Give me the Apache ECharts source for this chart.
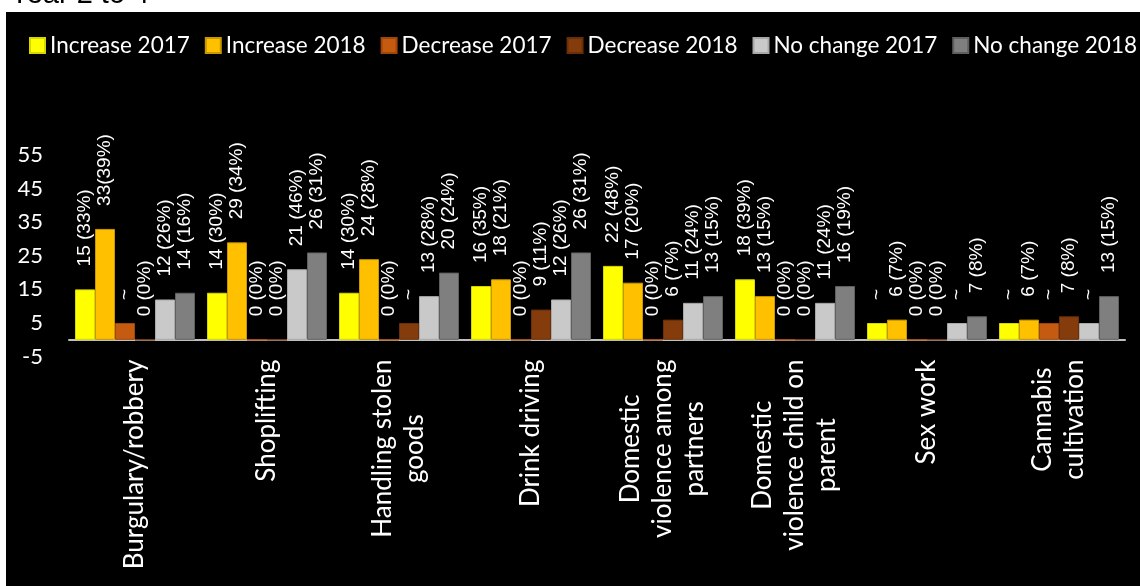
<!DOCTYPE html>
<html>
<head>
<meta charset="utf-8">
<script src="https://cdn.jsdelivr.net/npm/echarts@6/dist/echarts.min.js"></script>
<style>
html, body { margin: 0; padding: 0; background: #fff; }
#chart { width: 1140px; height: 586px; }
</style>
</head>
<body>
<div id="chart"></div>
<script>
var categories = [
    'Burgulary/robbery',
    'Shoplifting',
    'Handling stolen\ngoods',
    'Drink driving',
    'Domestic\nviolence among\npartners',
    'Domestic\nviolence child on\nparent',
    'Sex work',
    'Cannabis\ncultivation'
];

// "~" (suppressed) counts are drawn as 5
var increase2017 = [15, 14, 14, 16, 22, 18, 5, 5];
var increase2018 = [33, 29, 24, 18, 17, 13, 6, 6];
var decrease2017 = [5, 0, 0, 0, 0, 0, 0, 5];
var decrease2018 = [0, 0, 5, 9, 6, 0, 0, 7];
var noChange2017 = [12, 21, 13, 12, 11, 11, 5, 5];
var noChange2018 = [14, 26, 20, 26, 13, 16, 7, 13];

var increase2017Labels = ['15 (33%)', '14 (30%)', '14 (30%)', '16 (35%)', '22 (48%)', '18 (39%)', '~', '~'];
var increase2018Labels = ['33(39%)', '29 (34%)', '24 (28%)', '18 (21%)', '17 (20%)', '13 (15%)', '6 (7%)', '6 (7%)'];
var decrease2017Labels = ['~', '0 (0%)', '0 (0%)', '0 (0%)', '0 (0%)', '0 (0%)', '0 (0%)', '~'];
var decrease2018Labels = ['0 (0%)', '0 (0%)', '~', '9 (11%)', '6 (7%)', '0 (0%)', '0 (0%)', '7 (8%)'];
var noChange2017Labels = ['12 (26%)', '21 (46%)', '13 (28%)', '12 (26%)', '11 (24%)', '11 (24%)', '~', '~'];
var noChange2018Labels = ['14 (16%)', '26 (31%)', '20 (24%)', '26 (31%)', '13 (15%)', '16 (19%)', '7 (8%)', '13 (15%)'];

var yTicks = { min: -5, max: 55, interval: 10 };

var uiFont = 'Lato, "Noto Sans", sans-serif';
var labelFont = '"Liberation Sans", Arial, sans-serif';

function makeSeries(name, values, labels, color, border) {
    return {
        type: 'bar',
        name: name,
        data: values,
        barWidth: 20,
        barGap: '0%',
        itemStyle: {
            color: color,
            borderColor: border,
            borderWidth: 1
        },
        label: {
            show: true,
            position: 'top',
            rotate: 90,
            align: 'left',
            verticalAlign: 'middle',
            distance: 23,
            color: '#fff',
            fontFamily: labelFont,
            fontSize: 19,
            formatter: function (p) {
                return labels[p.dataIndex];
            }
        }
    };
}

var chart = echarts.init(document.getElementById('chart'), null, { renderer: 'canvas' });

chart.setOption({
    animation: false,
    backgroundColor: '#fff',
    graphic: [
        {
            type: 'rect',
            z: -10,
            shape: { x: 6, y: 12, width: 1134, height: 574 },
            style: { fill: '#000' }
        },
        {
            type: 'text',
            x: 10,
            y: 9,
            style: {
                text: 'Year 2 to 4',
                fill: '#000',
                font: '29px "Liberation Sans", Arial, sans-serif',
                verticalAlign: 'bottom'
            }
        }
    ],
    legend: {
        left: 29,
        top: 34,
        width: 1111,
        padding: 0,
        itemWidth: 15,
        itemHeight: 15,
        itemGap: 15,
        icon: 'rect',
        textStyle: {
            color: '#fff',
            fontFamily: uiFont,
            fontSize: 22.5
        }
    },
    grid: {
        left: 69,
        right: 15,
        top: 155,
        bottom: 229.4,
        containLabel: false
    },
    xAxis: {
        type: 'category',
        data: categories,
        axisLine: {
            onZero: true,
            lineStyle: { color: '#bfbfbf', width: 2 }
        },
        axisTick: { show: false },
        axisLabel: {
            interval: 0,
            rotate: 90,
            margin: 3,
            color: '#fff',
            fontFamily: uiFont,
            fontSize: 26,
            lineHeight: 32,
            formatter: function (value) {
                return value.split('\n').map(function (line) {
                    return '{c|' + line + '}';
                }).join('\n');
            },
            rich: {
                c: {
                    align: 'center',
                    color: '#fff',
                    fontFamily: uiFont,
                    fontSize: 26,
                    lineHeight: 32
                }
            }
        }
    },
    yAxis: {
        type: 'value',
        min: yTicks.min,
        max: yTicks.max,
        interval: yTicks.interval,
        axisLine: { show: false },
        axisTick: { show: false },
        splitLine: { show: false },
        axisLabel: {
            margin: 26,
            padding: [4, 0, 0, 0],
            color: '#fff',
            fontFamily: uiFont,
            fontSize: 22
        }
    },
    series: [
        makeSeries('Increase 2017', increase2017, increase2017Labels, '#ffff00', '#d6d600'),
        makeSeries('Increase 2018', increase2018, increase2018Labels, '#ffc000', '#c99700'),
        makeSeries('Decrease 2017', decrease2017, decrease2017Labels, '#c55a11', '#a04608'),
        makeSeries('Decrease 2018', decrease2018, decrease2018Labels, '#843c0c', '#6a2f08'),
        makeSeries('No change 2017', noChange2017, noChange2017Labels, '#c9c9c9', '#a8a8a8'),
        makeSeries('No change 2018', noChange2018, noChange2018Labels, '#7f7f7f', '#5f5f5f')
    ]
});
</script>
</body>
</html>
